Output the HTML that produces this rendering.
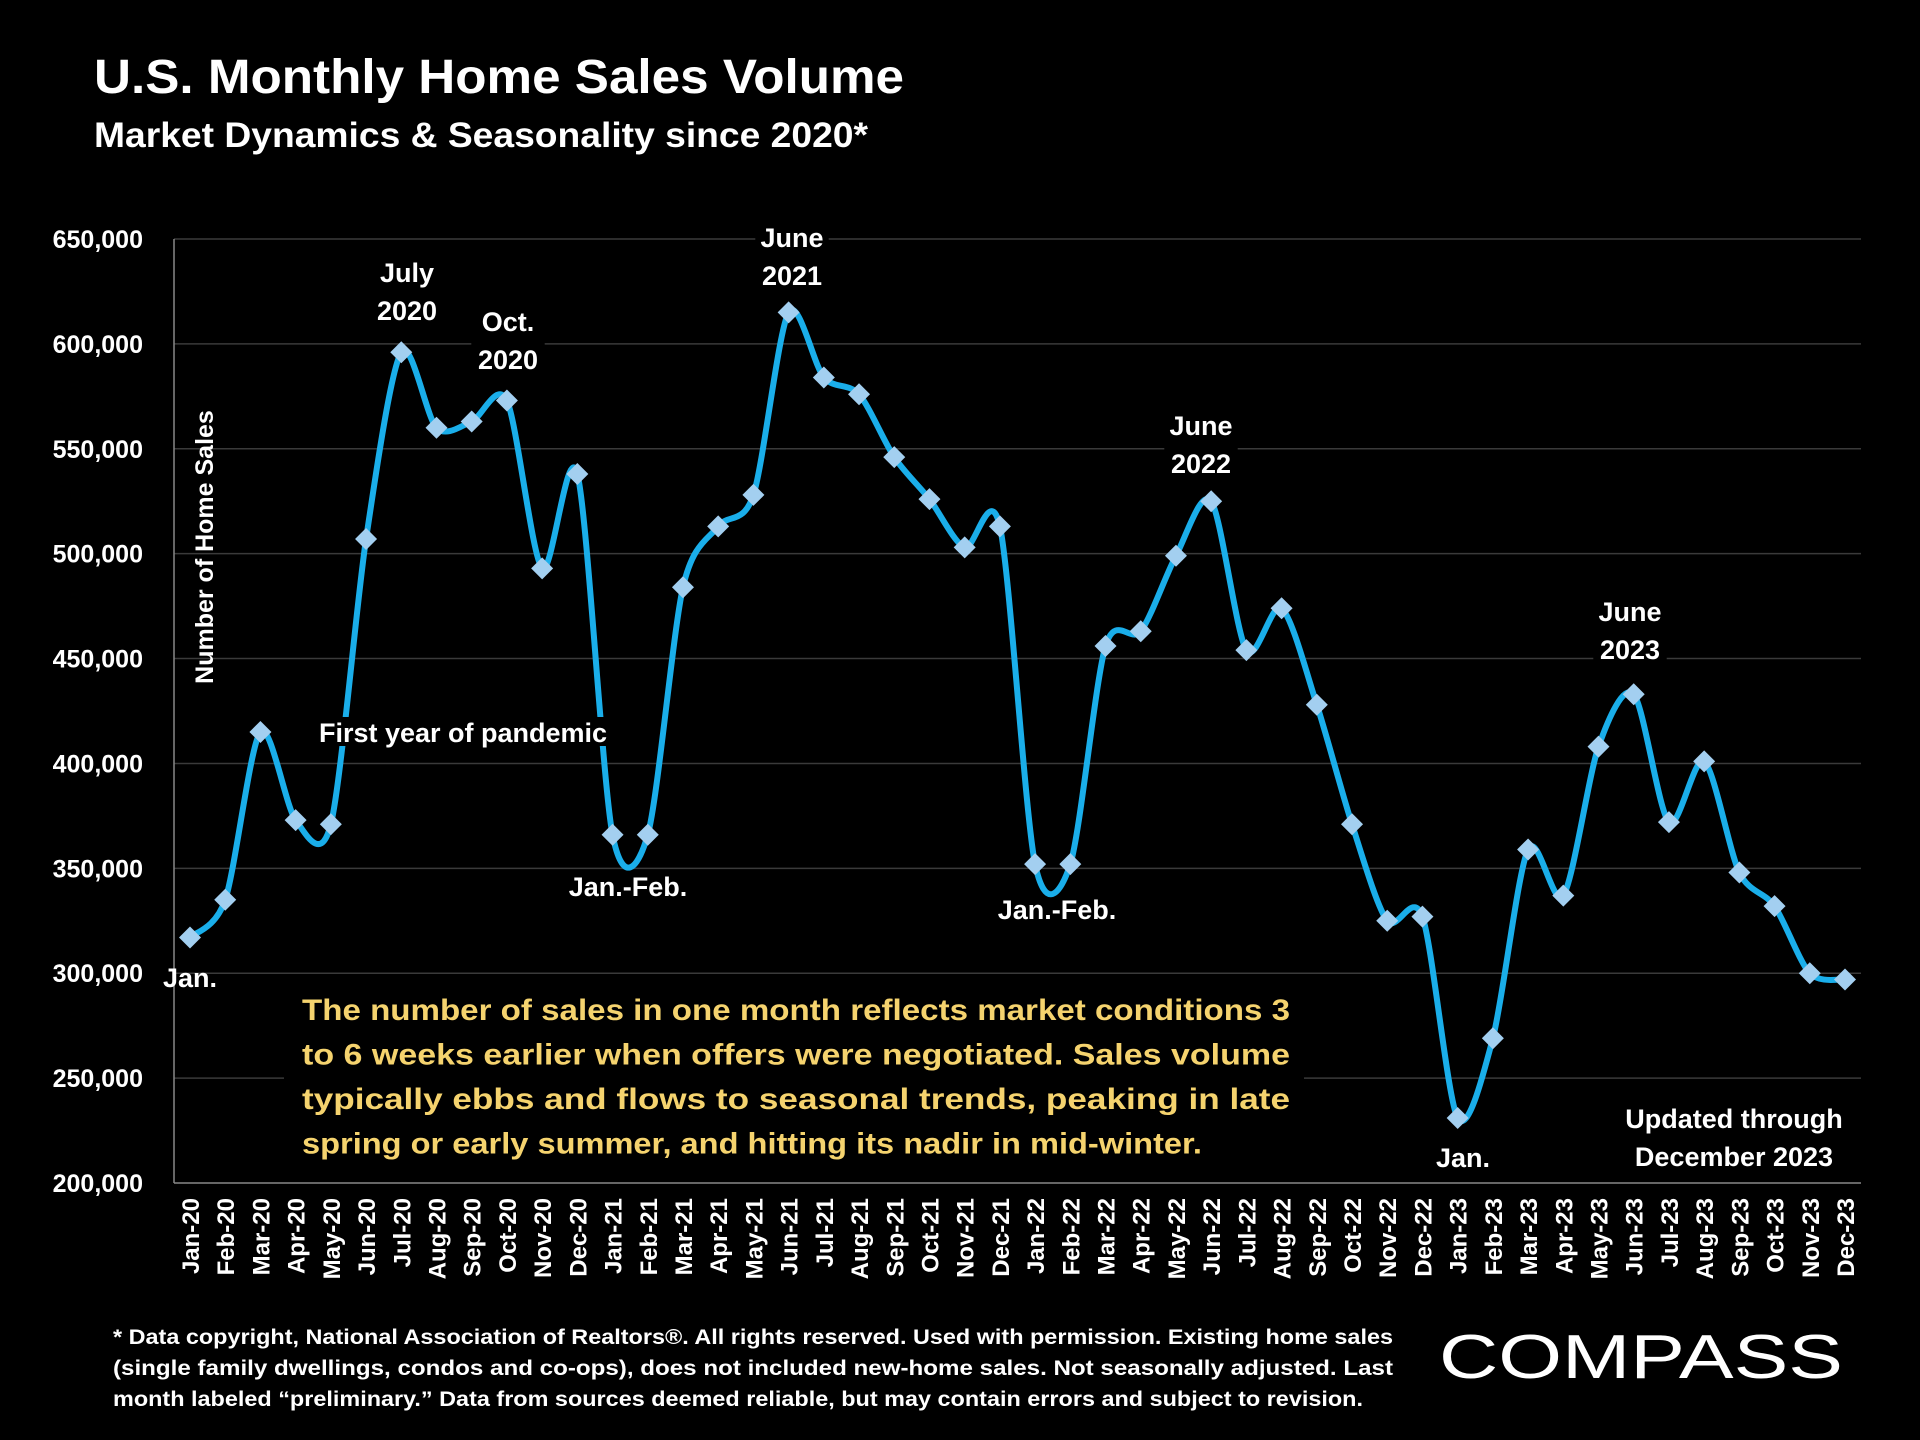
<!DOCTYPE html>
<html><head><meta charset="utf-8"><style>
html,body{margin:0;padding:0;background:#000;}
svg{display:block;font-family:"Liberation Sans",sans-serif;}
</style></head><body>
<svg id="c" width="1920" height="1440" viewBox="0 0 1920 1440">
<rect width="1920" height="1440" fill="#000"/>
<text x="94" y="93" fill="#fff" font-size="48" font-weight="bold" textLength="810" lengthAdjust="spacingAndGlyphs">U.S. Monthly Home Sales Volume</text>
<text x="94" y="147" fill="#fff" font-size="35" font-weight="bold" textLength="774" lengthAdjust="spacingAndGlyphs">Market Dynamics &amp; Seasonality since 2020*</text>
<g id="grid"></g>
<g id="series"></g>
<g id="ann"></g>
<text x="1439" y="1378" fill="#fff" font-size="62" textLength="404" lengthAdjust="spacingAndGlyphs">COMPASS</text>
</svg>
<script>
const categories=["Jan-20","Feb-20","Mar-20","Apr-20","May-20","Jun-20","Jul-20","Aug-20","Sep-20","Oct-20","Nov-20","Dec-20","Jan-21","Feb-21","Mar-21","Apr-21","May-21","Jun-21","Jul-21","Aug-21","Sep-21","Oct-21","Nov-21","Dec-21","Jan-22","Feb-22","Mar-22","Apr-22","May-22","Jun-22","Jul-22","Aug-22","Sep-22","Oct-22","Nov-22","Dec-22","Jan-23","Feb-23","Mar-23","Apr-23","May-23","Jun-23","Jul-23","Aug-23","Sep-23","Oct-23","Nov-23","Dec-23"];
const sales=[317000,335000,415000,373000,371000,507000,596000,560000,563000,573000,493000,538000,366000,366000,484000,513000,528000,615000,584000,576000,546000,526000,503000,513000,352000,352000,456000,463000,499000,525000,454000,474000,428000,371000,325000,327000,231000,269000,359000,337000,408000,433000,372000,401000,348000,332000,300000,297000];
const yTicks=[200000,250000,300000,350000,400000,450000,500000,550000,600000,650000];
const yTickLabels=["200,000","250,000","300,000","350,000","400,000","450,000","500,000","550,000","600,000","650,000"];
const NS="http://www.w3.org/2000/svg";
const X0=174,X1=1861,Y0=1183,Y1=239;
const yMin=200000,yMax=650000;
const first=190,last=1845;
function xs(i){return first+(last-first)*i/(categories.length-1);}
function ys(v){return Y0-(v-yMin)/(yMax-yMin)*(Y0-Y1);}
function mk(tag,attrs,parent){const e=document.createElementNS(NS,tag);for(const k in attrs)e.setAttribute(k,attrs[k]);parent.appendChild(e);return e;}
const grid=document.getElementById('grid'),ser=document.getElementById('series'),ann=document.getElementById('ann');
yTicks.forEach((t,i)=>{
  if(i>0){const l=mk('line',{x1:X0,x2:X1,y1:ys(t),y2:ys(t),stroke:'#3a3a3a','stroke-width':1.5},grid);
  
  }
  const tx=mk('text',{x:143,y:ys(t)+9,'text-anchor':'end',fill:'#fff','font-size':25,'font-weight':'bold'},grid);
  tx.textContent=yTickLabels[i];
  
  
});
let ax=mk('line',{x1:X0,x2:X0,y1:Y1,y2:Y0,stroke:'#888','stroke-width':1.5},grid);


ax=mk('line',{x1:X0,x2:X1,y1:Y0,y2:Y0,stroke:'#888','stroke-width':1.5},grid);


categories.forEach((c,i)=>{
  const x=xs(i);
  const t=mk('text',{x:0,y:0,transform:`translate(${x+9},1198) rotate(-90)`,'text-anchor':'end',fill:'#fff','font-size':24,'font-weight':'bold'},grid);
  t.textContent=c;
  
  
});
const yt=mk('text',{x:0,y:0,transform:'translate(213,547) rotate(-90)','text-anchor':'middle',fill:'#fff','font-size':25,'font-weight':'bold'},grid);
yt.textContent='Number of Home Sales';


const P=sales.map((v,i)=>[xs(i),ys(v)]);
let d=`M${P[0][0]},${P[0][1]}`;
for(let i=0;i<P.length-1;i++){
  const p0=P[Math.max(0,i-1)],p1=P[i],p2=P[i+1],p3=P[Math.min(P.length-1,i+2)];
  const k=1/7;
  d+=` C${p1[0]+(p2[0]-p0[0])*k},${p1[1]+(p2[1]-p0[1])*k} ${p2[0]-(p3[0]-p1[0])*k},${p2[1]-(p3[1]-p1[1])*k} ${p2[0]},${p2[1]}`;
}
const line=mk('path',{d:d,fill:'none',stroke:'#1aaeea','stroke-width':6,'stroke-linejoin':'round'},ser);


P.forEach((p,i)=>{
  const s=11;
  const m=mk('polygon',{points:`${p[0]},${p[1]-s} ${p[0]+s},${p[1]} ${p[0]},${p[1]+s} ${p[0]-s},${p[1]}`,fill:'#a3cff0'},ser);
  
  
});
function label(lines,cx,cy0,lh,name,opts){
  opts=opts||{};
  const fs=opts.fs||27,col=opts.col||'#fff';
  const w=opts.w||Math.max(...lines.map(l=>l.length))*fs*0.55+14;
  const h=(lines.length-1)*lh+fs+2;
  if(!opts.nobg)mk('rect',{x:cx-w/2,y:cy0-fs+2,width:w,height:h,fill:'#000'},ann);
  lines.forEach((l,j)=>{
    const t=mk('text',{x:cx,y:cy0+j*lh,'text-anchor':'middle',fill:col,'font-size':fs,'font-weight':'bold'},ann);
    t.textContent=l;
    
    
  });
}
label(['July','2020'],407,282,38,'annotation-july-2020');
label(['Oct.','2020'],508,331,38,'annotation-oct-2020');
label(['June','2021'],792,247,38,'annotation-june-2021');
label(['June','2022'],1201,435,38,'annotation-june-2022');
label(['June','2023'],1630,621,38,'annotation-june-2023');
label(['Jan.'],190,987,38,'annotation-jan-2020',{nobg:true});
label(['First year of pandemic'],463,742,38,'annotation-pandemic',{w:318});
label(['Jan.-Feb.'],628,896,38,'annotation-jan-feb-2021',{nobg:true});
label(['Jan.-Feb.'],1057,919,38,'annotation-jan-feb-2022',{nobg:true});
label(['Jan.'],1463,1167,38,'annotation-jan-2023');
label(['Updated through','December 2023'],1734,1128,38,'annotation-updated');
mk('rect',{x:284,y:986,width:1020,height:184,fill:'#000'},ann);
const para=["The number of sales in one month reflects market conditions 3","to 6 weeks earlier when offers were negotiated. Sales volume","typically ebbs and flows to seasonal trends, peaking in late","spring or early summer, and hitting its nadir in mid-winter."];
para.forEach((l,j)=>{
  const a={x:302,y:1020+j*44.5,fill:'#f5d36e','font-size':30,'font-weight':'bold'};
  if(j<3){a.textLength=988;a.lengthAdjust='spacingAndGlyphs';}
  else {a.textLength=900;a.lengthAdjust='spacingAndGlyphs';}
  const t=mk('text',a,ann);t.textContent=l;
  
  
});
const foot=["* Data copyright, National Association of Realtors®. All rights reserved. Used with permission. Existing home sales","(single family dwellings, condos and co-ops), does not included new-home sales. Not seasonally adjusted. Last","month labeled “preliminary.” Data from sources deemed reliable, but may contain errors and subject to revision."];
foot.forEach((l,j)=>{
  const t=mk('text',{x:113,y:1344+j*31,fill:'#fff','font-size':21,'font-weight':'bold',textLength:j==2?1250:1280,lengthAdjust:'spacingAndGlyphs'},ann);
  t.textContent=l;
  
  
});
</script>
</body></html>
